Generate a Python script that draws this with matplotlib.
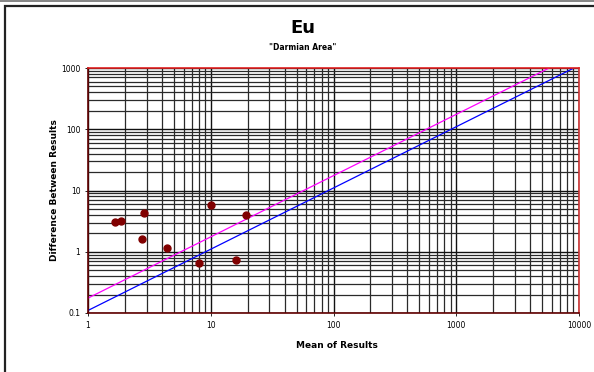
import matplotlib
matplotlib.use("Agg")
import matplotlib.pyplot as plt
import numpy as np
from matplotlib.patches import Rectangle

# sample points
mean_vals = [1.66, 1.84, 2.86, 2.75, 4.44, 8.09, 10.1, 16.1, 19.5]
diff_vals = [3.10, 3.22, 4.34, 1.61, 1.15, 0.66, 5.70, 0.73, 4.03]

# control lines
line_x = [1, 10000]
blue_y = [0.11, 1100]
magenta_y = [0.175, 1750]

x_ticks = [1, 10, 100, 1000, 10000]
x_labels = ["1", "10", "100", "1000", "10000"]
y_ticks = [0.1, 1, 10, 100, 1000]
y_labels = ["0.1", "1", "10", "100", "1000"]


def main():
	fig = plt.figure(figsize=(5.94, 3.72), dpi=100)
	fig.patch.set_facecolor("white")

	# outer chart border (right/bottom run off the image)
	fig.patches.append(Rectangle((5/594, -0.05), 1.1, 1 - 6/372 + 0.05,
		transform=fig.transFigure, fill=False, edgecolor="#222222", linewidth=1.6))
	fig.patches.append(Rectangle((0, 1 - 1.5/372), 1, 1.5/372,
		transform=fig.transFigure, color="#888888", linewidth=0))

	ax = fig.add_axes([88/594, 1 - 313/372, (579 - 88)/594, (313 - 68)/372])
	ax.set_xscale("log")
	ax.set_yscale("log")
	ax.set_xlim(1, 10000)
	ax.set_ylim(0.1, 1000)

	ax.grid(True, which="major", color="#111111", linewidth=1.0)
	ax.grid(True, which="minor", color="#2a2a2a", linewidth=0.9)
	ax.set_axisbelow(True)

	ax.plot(line_x, magenta_y, color="#ff00ff", linewidth=0.9)
	ax.plot(line_x, blue_y, color="#0000ff", linewidth=0.9)
	ax.plot(mean_vals, diff_vals, "o", color="#800000", markersize=5, zorder=5)

	ax.spines["top"].set_color("#e02020")
	ax.spines["right"].set_color("#cc3333")
	ax.spines["left"].set_color("#600000")
	ax.spines["bottom"].set_color("#600000")
	for s in ax.spines.values():
		s.set_linewidth(1.2)

	ax.set_xticks(x_ticks)
	ax.set_xticklabels(x_labels)
	ax.set_yticks(y_ticks)
	ax.set_yticklabels(y_labels)
	ax.tick_params(which="major", length=2.5, width=0.6, labelsize=5.5, pad=3)
	ax.tick_params(which="minor", length=0)

	ax.set_xlabel("Mean of Results", fontsize=6.5, fontweight="bold")
	ax.set_ylabel("Difference Between Results", fontsize=6.5, fontweight="bold")
	ax.xaxis.set_label_coords((337 - 88)/491, -(345 - 313)/245)
	ax.yaxis.set_label_coords(-(88 - 55)/491, 0.5)
	ax.xaxis.label.set_va("center")
	ax.yaxis.label.set_va("center")

	fig.text(0.51, 1 - 28/372, "Eu", ha="center", va="center", fontsize=13, fontweight="bold")
	fig.text(0.51, 1 - 48/372, "\"Darmian Area\"", ha="center", va="center", fontsize=5.5, fontweight="bold")

	fig.savefig("out.png", dpi=100)

main()
